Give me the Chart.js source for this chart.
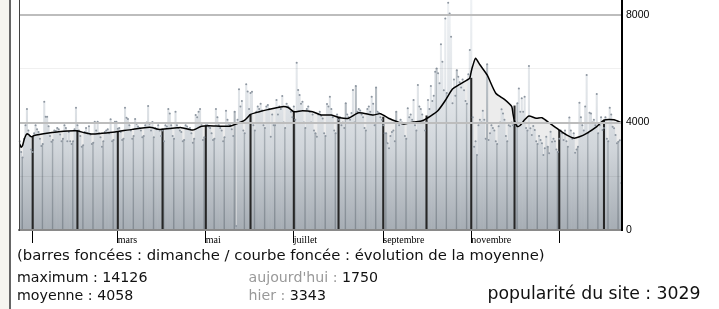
<!DOCTYPE html>
<html><head><meta charset="utf-8">
<script src="https://cdn.jsdelivr.net/npm/chart.js@4.4.1/dist/chart.umd.min.js"></script>
<style>
html,body{margin:0;padding:0;background:#fff;width:719px;height:309px;overflow:hidden;position:relative;font-family:"DejaVu Sans",sans-serif;}
#strip{position:absolute;left:0;top:0;width:9px;height:309px;background:#f6f5f0;}
#vline{position:absolute;left:9px;top:0;width:2px;height:309px;background:#666;}
#wrap{position:absolute;left:18px;top:0;width:644px;height:248px;}
.t{position:absolute;white-space:nowrap;line-height:1;color:#111;}
.g{color:#999;}
</style></head><body>
<div id="strip"></div><div id="vline"></div>
<div id="wrap"><canvas id="c" width="644" height="248"></canvas></div>
<div class="t" id="legend" style="left:17px;top:248px;font-size:14.83px"></div>
<div class="t" id="tmax" style="left:17px;top:270.3px;font-size:14.2px"></div>
<div class="t" id="tmoy" style="left:17px;top:288.3px;font-size:14.2px"></div>
<div class="t" id="tauj" style="left:248.5px;top:270.3px;font-size:14.2px"></div>
<div class="t" id="thier" style="left:248.5px;top:288.3px;font-size:14.2px"></div>
<div class="t" id="tpop" style="left:487.5px;top:285.4px;font-size:17.3px"></div>
<script>
// ---- data (daily visits, first day = 23 Dec 2005) ----
const visitsDec05 = [3300,2900,2700,3400,3900,4500,3700,3500,3000];
const visitsJan06 = [2900,3600,3900,3750,3650,3400,3125,3200,4770,4215,4215,3860,3500,3285,3350,3700,3680,3800,3750,3550,3300,3400,3900,3800,3300,3650,3300,3200,3300,3750,4550];
const visitsFeb06 = [3900,3700,3500,3100,3150,3650,3800,3600,3860,3550,3200,3250,4030,3700,4030,3600,3450,3100,3300,3650,3700,3750,3600,4120,3300,3350,4030,4030];
const visitsMar06 = [3770,3800,3650,3350,3400,4550,4180,4130,3900,3700,3400,3500,4130,3950,3850,3800,3700,3450,3500,3900,4000,4615,3950,3700,4020,3450,3800,3750,3900,3700,3500];
const visitsApr06 = [3700,3300,3900,3850,4500,4340,3900,3500,3400,4400,3900,3800,3700,3650,3300,3350,3900,3850,3750,3800,3600,3250,3400,4280,4200,4400,4500,3950,3350,3450];
const visitsMay06 = [3900,3950,3850,3800,3600,3350,3400,4500,4200,3900,3800,3700,3300,3450,4440,4100,3950,3900,3750,3500,4400,150,4100,5235,4600,4800,3700,3600,5420,5150,4500];
const visitsJun06 = [5100,5145,3900,3700,4400,4600,4500,4700,4450,3900,3800,4600,4650,4500,3470,4300,3900,3900,4840,4300,4600,4500,4985,4000,3800,4700,4600,4550,4400,4200];
const visitsJul06 = [4600,4100,6225,5210,5020,4700,4770,4000,3800,4500,4600,4400,4000,4300,3700,3600,3470,4300,4400,4250,4150,3600,3500,4690,4600,4960,4500,4200,3700,3600,4300];
const visitsAug06 = [4100,4200,3900,4000,3800,4715,4300,4200,4100,4350,5210,4000,5360,4400,4500,4450,4300,4200,3800,3700,4500,4600,4400,4960,4700,3900,5300,4400,4350,4200,4100];
const visitsSep06 = [3900,3600,3600,3225,3040,3500,3650,3700,3300,4400,4000,3900,4100,4000,3950,3500,3400,4530,4200,4300,4100,4840,3900,3700,5395,4600,4500,4300,4000,3700];
const visitsOct06 = [4000,4840,4500,5360,4800,5000,5890,6015,5830,5460,6910,6265,5200,7875,5100,8460,8060,7190,4715,5600,5000,5950,5700,5500,5300,5600,5200,4800,4700,5800,6700];
const visitsNov06 = [14126,4200,3100,3300,2790,3900,4100,4000,4440,4100,3400,6165,3350,3600,3900,3800,3700,3300,3200,3860,4000,4490,4340,4100,3500,3300,3900,3860,4000,3900];
const visitsDec06 = [4100,3900,4715,5270,4400,4900,4400,4960,3800,3700,6100,3785,3535,3870,3720,3300,3200,3500,3350,3225,2790,3040,3470,3100,2855,3660,3285,3400,3300,3000,2900];
const visitsJan07 = [3400,3700,3600,3350,3700,3300,3100,4190,3700,3400,3600,2875,3000,3100,4740,4200,3900,3700,4600,5770,3600,4365,4340,4000,4100,3900,5060,3600,3900,4200,3720];
const visitsFeb07 = [3800,4200,3400,3300,4550,4300,3845,3785,3535,3225,3285,3343,1750];

// moving average (day index, value)
const avgDay = [0,1,2,3,4,5,6,8,10,20,27,39,45,50,57,66,78,90,97,104,112,120,126,131,145,150,156,160,166,172,182,186,190,196,203,209,216,222,228,235,245,250,256,263,266,273,279,285,290,295,300,305,310,312,313,314,316,319,324,330,336,341,342,343,345,347,350,353,358,362,368,374,379,384,388,393,400,405,412,417];
const avgVal = [3200,3080,3150,3350,3500,3580,3560,3470,3520,3610,3660,3690,3620,3570,3600,3650,3745,3820,3745,3780,3810,3720,3860,3880,3860,3945,4090,4300,4400,4480,4590,4560,4400,4440,4400,4280,4280,4180,4160,4360,4280,4330,4150,4000,3945,4020,4065,4250,4450,4820,5250,5420,5580,5650,5900,6100,6390,6150,5770,5090,4860,4600,4300,4050,3850,3900,4100,4240,4160,4180,3950,3720,3540,3420,3470,3600,3850,4090,4100,3990];

// dark month-start columns (height = moving average on the 1st of each month)
const monthStartAvg = {'2006-01-01':3480,'2006-02-01':3700,'2006-03-01':3650,'2006-04-01':3760,'2006-05-01':3880,'2006-06-01':4300,'2006-07-01':4420,'2006-08-01':4180,'2006-09-01':4200,'2006-10-01':4250,'2006-11-01':5650,'2006-12-01':4620,'2007-01-01':3720,'2007-02-01':4090};

const yTicks = [0,2000,4000,6000,8000];
const monthTickLabels = {'01':'','03':'mars','05':'mai','07':'juillet','09':'septembre','11':'novembre'};
const stats = {maximum:14126, moyenne:4058, aujourdhui:1750, hier:3343, popularite:3029};

const visits = [].concat(visitsDec05,visitsJan06,visitsFeb06,visitsMar06,visitsApr06,visitsMay06,visitsJun06,visitsJul06,visitsAug06,visitsSep06,visitsOct06,visitsNov06,visitsDec06,visitsJan07,visitsFeb07);
const start = Date.UTC(2005,11,23);
const days = visits.map((_,i)=>new Date(start+i*86400000).toISOString().slice(0,10));
const isSunday = i => new Date(start+i*86400000).getUTCDay()===0;
const isMonthStart = i => i<days.length && days[i].slice(8)==='01';
const isLabeledMonth = i => isMonthStart(i) && (days[i].slice(5,7) in monthTickLabels);
const avgPoints = avgDay.map((d,k)=>({x:days[d], y:avgVal[k]}));
const monthBars = Object.keys(monthStartAvg).map(k=>({x:k, y:monthStartAvg[k]}));

document.getElementById('legend').textContent='(barres foncées : dimanche / courbe foncée : évolution de la moyenne)';
document.getElementById('tmax').textContent='maximum : '+stats.maximum;
document.getElementById('tmoy').textContent='moyenne : '+stats.moyenne;
document.getElementById('tauj').innerHTML='<span class="g">aujourd\'hui :</span> '+stats.aujourdhui;
document.getElementById('thier').innerHTML='<span class="g">hier :</span> '+stats.hier;
document.getElementById('tpop').textContent='popularité du site : '+stats.popularite;

let gradN=null, gradS=null;
function barColor(ctx){
  const ch=ctx.chart, a=ch.chartArea;
  if(!a) return '#c0c5ca';
  if(!gradN){
    const c=ch.ctx;
    gradN=c.createLinearGradient(0,a.top,0,a.bottom);
    gradN.addColorStop(0,'#eef1f4');gradN.addColorStop(0.45,'#dfe3e7');gradN.addColorStop(0.65,'#d0d5da');gradN.addColorStop(1,'#a6adb4');
    gradS=c.createLinearGradient(0,a.top,0,a.bottom);
    gradS.addColorStop(0,'#cdd3d8');gradS.addColorStop(0.5,'#b0b7bd');gradS.addColorStop(1,'#838b93');
  }
  return isSunday(ctx.dataIndex)?gradS:gradN;
}

new Chart(document.getElementById('c'),{
  type:'bar',
  data:{labels:days,datasets:[
    {type:'line',data:avgPoints,borderColor:'#000',borderWidth:1.5,pointRadius:0,fill:'origin',backgroundColor:'#ececec',tension:0.2,order:0},
    {type:'line',data:visits,showLine:false,pointRadius:1,pointBackgroundColor:'#8d96a0',pointBorderWidth:0,order:1},
    {type:'bar',data:monthBars,backgroundColor:'#262626',barThickness:1.4,grouped:false,borderWidth:0,order:2},
    {type:'bar',data:visits,backgroundColor:barColor,barPercentage:1,categoryPercentage:1,grouped:false,borderWidth:0,order:3}
  ]},
  options:{
    responsive:false,animation:false,events:[],
    layout:{padding:0,autoPadding:false},
    plugins:{legend:{display:false},tooltip:{enabled:false},filler:{drawTime:'beforeDatasetsDraw'}},
    scales:{
      x:{offset:true,
        grid:{offset:false,z:1,tickLength:13,drawOnChartArea:false,
          color:c=>isLabeledMonth(c.index)?'#000':'rgba(0,0,0,0)',
          lineWidth:c=>isLabeledMonth(c.index)?1:0,
          tickColor:c=>isLabeledMonth(c.index)?'#000':'rgba(0,0,0,0)',
          tickWidth:c=>isLabeledMonth(c.index)?1:0},
        border:{display:true,color:'#8a8a8a',width:2,z:1},
        ticks:{autoSkip:false,maxRotation:0,minRotation:0,align:'start',padding:-9,color:'#000',
          font:{family:'Liberation Serif',size:10},
          callback:(v,i)=>isLabeledMonth(i)?monthTickLabels[days[i].slice(5,7)]:''},
        afterFit:s=>{s.height=18;s.paddingLeft=0;s.paddingRight=0;}
      },
      y:{position:'right',min:0,max:8560,
        afterBuildTicks:s=>{s.ticks=yTicks.map(v=>({value:v}));},
        grid:{z:1,drawTicks:false,
          color:c=>{const v=c.tick&&c.tick.value; if(v===4000||v===8000) return '#bdbdbd'; if(v===2000||v===6000) return 'rgba(0,0,0,0.06)'; return 'rgba(0,0,0,0)';},
          lineWidth:c=>{const v=c.tick&&c.tick.value; return (v===4000||v===8000)?2:1;}},
        border:{color:'#000',width:2,z:1},
        ticks:{padding:4,color:'#000',font:{family:'Liberation Sans',size:10.5},callback:v=>(v%4000===0?String(v):'')},
        afterFit:s=>{s.width=40;s.paddingTop=0;s.paddingBottom=0;}
      },
      yl:{position:'left',min:0,max:8560,
        grid:{display:false,drawTicks:false},ticks:{display:false},
        border:{display:true,color:'#444',width:1,z:1},
        afterFit:s=>{s.width=1;s.paddingTop=0;s.paddingBottom=0;}
      }
    }
  }
});
</script>
</body></html>
